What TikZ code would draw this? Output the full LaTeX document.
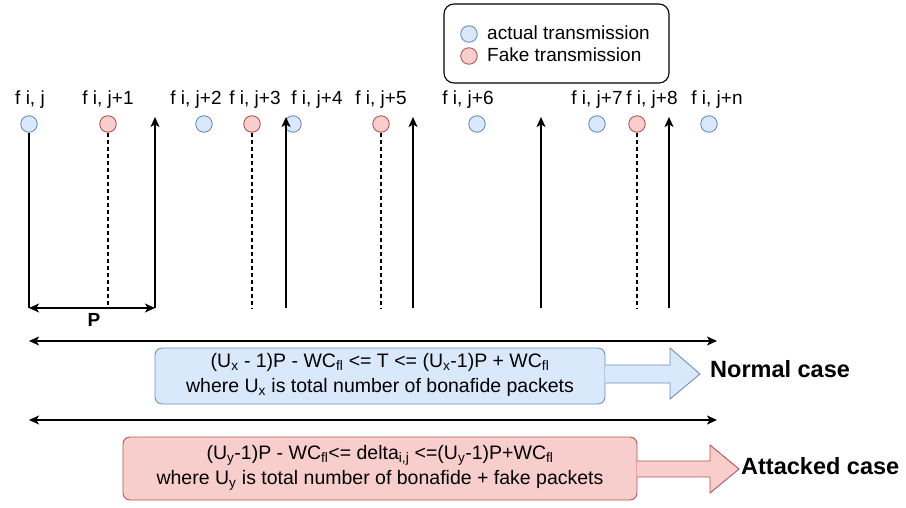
\documentclass[tikz,border=0pt]{standalone}
\usepackage{fontspec}
\setmainfont{Liberation Sans}
\usetikzlibrary{arrows.meta}
\definecolor{bluefill}{HTML}{DAE8FC}
\definecolor{bluestroke}{HTML}{6C8EBF}
\definecolor{redfill}{HTML}{F8CECC}
\definecolor{redstroke}{HTML}{B85450}
\tikzset{
  actual/.style={circle,draw=bluestroke,fill=bluefill,line width=0.9pt,minimum size=16.5pt,inner sep=0pt},
  fake/.style={circle,draw=redstroke,fill=redfill,line width=0.9pt,minimum size=16.5pt,inner sep=0pt},
  flabel/.style={font=\fontsize{19}{21}\selectfont,inner sep=0pt},
  legendtext/.style={anchor=west,font=\fontsize{19}{21}\selectfont,inner sep=0pt},
  tick/.style={line width=1.3pt,black},
  fakeline/.style={line width=1.1pt,dash pattern=on 4pt off 3pt},
  arr/.style={-{Stealth[length=10pt,width=9pt,inset=2.5pt]}},
  darr/.style={{Stealth[length=10pt,width=9pt,inset=2.5pt]}-{Stealth[length=10pt,width=9pt,inset=2.5pt]}},
  formula/.style={rounded corners=7pt,line width=0.9pt,align=center,font=\fontsize{19.5}{25}\selectfont},
  casetext/.style={font=\bfseries\fontsize{23.5}{26}\selectfont,anchor=west,inner sep=0pt},
}
\begin{document}
\begin{tikzpicture}[x=1pt,y=-1pt]
\useasboundingbox (0,0) rectangle (906,508);

% legend
\draw[rounded corners=10pt,line width=1.1pt] (444,4) rectangle (669,83);
\node[actual] (la) at (469,34) {};
\node[fake] (lf) at (469,56) {};
\node[legendtext] (lat) at (487,33) {actual transmission};
\node[legendtext] (lft) at (487,55) {Fake transmission};

% packet labels
\node[flabel] at (30,100) {f i, j};
\node[flabel] at (108,100) {f i, j+1};
\node[flabel] at (196,100) {f i, j+2};
\node[flabel] at (255,100) {f i, j+3};
\node[flabel] at (317,100) {f i, j+4};
\node[flabel] at (381,100) {f i, j+5};
\node[flabel] at (468,100) {f i, j+6};
\node[flabel] at (597,100) {f i, j+7};
\node[flabel] at (652,100) {f i, j+8};
\node[flabel] at (717,100) {f i, j+n};

% packets
\node[actual] (a0) at (29,124) {};
\node[fake]   (f1) at (108,124) {};
\node[actual] (a2) at (204,124) {};
\node[fake]   (f3) at (252,124) {};
\node[actual] (a4) at (293,124) {};
\node[fake]   (f5) at (381,124) {};
\node[actual] (a6) at (477,124) {};
\node[actual] (a7) at (597,124) {};
\node[fake]   (f8) at (637,124) {};
\node[actual] (an) at (709,124) {};

% base coordinates of the time marks
\coordinate (b0) at (29,308);
\coordinate (b1) at (155,308);
\coordinate (b2) at (286,308);
\coordinate (b3) at (413,308);
\coordinate (b4) at (541,308);
\coordinate (b5) at (669,308);
\coordinate (t1) at (155,117);
\coordinate (t2) at (286,117);
\coordinate (t3) at (413,117);
\coordinate (t4) at (541,117);
\coordinate (t5) at (669,117);

\draw[tick] (a0) -- (b0);
\foreach \i in {1,...,5} \draw[tick,arr] (b\i) -- (t\i);

\coordinate (d1) at (108,308);
\coordinate (d3) at (252,308);
\coordinate (d5) at (381,308);
\coordinate (d8) at (637,308);
\draw[fakeline] (f1) -- (d1);
\draw[fakeline] (f3) -- (d3);
\draw[fakeline] (f5) -- (d5);
\draw[fakeline] (f8) -- (d8);

% period P
\draw[tick,darr] (b0) -- (b1);
\node[font=\bfseries\fontsize{19}{21}\selectfont] (P) at (94,320) {P};

% observation windows
\coordinate (w1l) at (29,341);
\coordinate (w1r) at (717,341);
\coordinate (w2l) at (29,420);
\coordinate (w2r) at (717,420);
\draw[tick,darr] (w1l) -- (w1r);
\draw[tick,darr] (w2l) -- (w2r);

% normal case
\draw[formula,draw=bluestroke,fill=bluefill] (155,348) rectangle (605,404);
\node[formula,draw=none] (nb) at (380,375) {(U\textsubscript{x} - 1)P - WC\textsubscript{fl} <= T <= (U\textsubscript{x}-1)P + WC\textsubscript{fl}\\where U\textsubscript{x} is total number of bonafide packets};
\draw[line width=0.9pt,draw=bluestroke,fill=bluefill,line join=miter]
  (605,365) -- (670,365) -- (670,348) -- (700,374) -- (670,399) -- (670,383) -- (605,383);
\node[casetext] (nc) at (710,369) {Normal case};

% attacked case
\draw[formula,draw=redstroke,fill=redfill] (123,437) rectangle (637,500);
\node[formula,draw=none] (ab) at (380,468) {(U\textsubscript{y}-1)P - WC\textsubscript{fl}<= delta\textsubscript{i,j} <=(U\textsubscript{y}-1)P+WC\textsubscript{fl}\\where U\textsubscript{y} is total number of bonafide + fake packets};
\draw[line width=0.9pt,draw=redstroke,fill=redfill,line join=miter]
  (637,461) -- (710,461) -- (710,445) -- (739,469) -- (710,493) -- (710,477) -- (637,477);
\node[casetext] (ac) at (741,466) {Attacked case};
\end{tikzpicture}
\end{document}
